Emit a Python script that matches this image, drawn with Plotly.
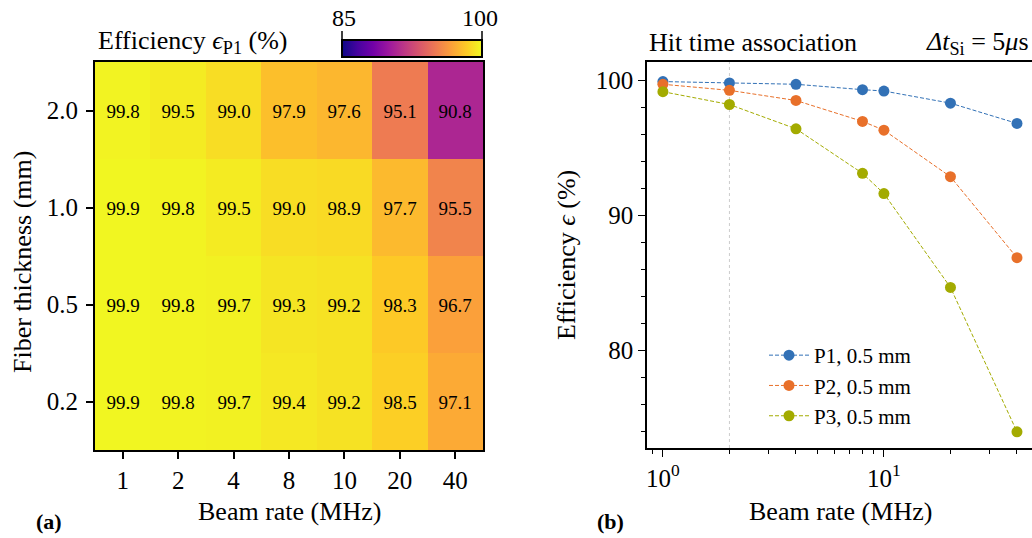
import plotly.graph_objects as go

# ---------------- data ----------------
beam_rates_cat = ["1", "2", "4", "8", "10", "20", "40"]
thickness_cat = ["0.2", "0.5", "1.0", "2.0"]
eff_p1 = [
    [99.9, 99.8, 99.7, 99.4, 99.2, 98.5, 97.1],  # 0.2 mm
    [99.9, 99.8, 99.7, 99.3, 99.2, 98.3, 96.7],  # 0.5 mm
    [99.9, 99.8, 99.5, 99.0, 98.9, 97.7, 95.5],  # 1.0 mm
    [99.8, 99.5, 99.0, 97.9, 97.6, 95.1, 90.8],  # 2.0 mm
]

beam_rates = [1, 2, 4, 8, 10, 20, 40]
p1_eff = [99.9, 99.8, 99.7, 99.3, 99.2, 98.3, 96.8]
p2_eff = [99.7, 99.25, 98.5, 96.95, 96.3, 92.85, 86.85]
p3_eff = [99.15, 98.2, 96.4, 93.1, 91.6, 84.65, 73.95]

W, H = 1032, 538
FONT = "Liberation Serif"

def px(x):
    return x / W

def py(y):
    return 1 - y / H

fig = go.Figure()

# ---------------- (a) heatmap ----------------
fig.add_trace(go.Heatmap(
    z=eff_p1, x=beam_rates_cat, y=thickness_cat,
    colorscale="Plasma", zmin=85, zmax=100,
    texttemplate="%{z:.1f}", textfont=dict(family=FONT, size=19, color="black"),
    xaxis="x", yaxis="y", hoverinfo="skip",
    colorbar=dict(orientation="h", x=px(412), xanchor="center",
                  y=py(40), yanchor="top", len=140 / W, lenmode="fraction",
                  thickness=17, xpad=0, ypad=0,
                  outlinewidth=2, outlinecolor="black",
                  ticks="", showticklabels=False),
))

# ---------------- (b) lines ----------------
series = [
    ("P1, 0.5 mm", p1_eff, "#3271b6"),
    ("P2, 0.5 mm", p2_eff, "#e8702a"),
    ("P3, 0.5 mm", p3_eff, "#a3ab00"),
]
ymin2, ymax2 = 72.75, 101.35
fig.add_trace(go.Scatter(x=[2, 2], y=[ymin2, ymax2], mode="lines",
                         line=dict(color="#cccccc", width=1, dash="dot"),
                         xaxis="x2", yaxis="y2", showlegend=False, hoverinfo="skip"))
for name, vals, col in series:
    fig.add_trace(go.Scatter(
        x=beam_rates, y=vals, name=name, mode="lines+markers",
        line=dict(color=col, width=1, dash="4px,2px"),
        marker=dict(color=col, size=11),
        xaxis="x2", yaxis="y2",
    ))

TICKF = dict(size=25)
fig.update_layout(
    width=W, height=H,
    margin=dict(l=0, r=0, t=0, b=0),
    paper_bgcolor="white", plot_bgcolor="white",
    font=dict(family=FONT, size=25, color="black"),
    xaxis=dict(domain=[px(95), px(483)], type="category",
               ticks="outside", ticklen=7, tickwidth=1.5, tickcolor="black",
               showline=True, linewidth=2, linecolor="black", mirror=True,
               tickfont=TICKF, showgrid=False),
    yaxis=dict(domain=[py(450), py(62)], type="category",
               ticks="outside", ticklen=7, tickwidth=1.5, tickcolor="black",
               showline=True, linewidth=2, linecolor="black", mirror=True,
               tickfont=TICKF, showgrid=False, ticklabelstandoff=3),
    xaxis2=dict(domain=[px(647), 1.0], type="log", range=[-0.072, 1.670],
                anchor="y2",
                tickvals=[1, 10], ticktext=["10<sup>0</sup>", "10<sup>1</sup>"],
                ticks="outside", ticklen=7, tickwidth=1.3, tickcolor="black",
                minor=dict(tickvals=[0.9, 2, 3, 4, 5, 6, 7, 8, 9, 20, 30, 40, 50],
                           ticks="outside", ticklen=4, tickwidth=1, tickcolor="black",
                           showgrid=False),
                showline=True, linewidth=1.5, linecolor="black", mirror=True,
                showgrid=False, zeroline=False, tickfont=TICKF),
    yaxis2=dict(domain=[py(448), py(62)], range=[ymin2, ymax2], anchor="x2",
                tickvals=[80, 90, 100],
                ticks="outside", ticklen=7, tickwidth=1.3, tickcolor="black",
                minor=dict(dtick=2, ticks="outside", ticklen=4, tickwidth=1,
                           tickcolor="black", showgrid=False),
                showline=True, linewidth=1.5, linecolor="black", mirror=False,
                showgrid=False, zeroline=False, tickfont=TICKF),
    legend=dict(x=px(764), y=py(335), xanchor="left", yanchor="top",
                bgcolor="rgba(255,255,255,0)", font=dict(size=21),
                tracegroupgap=0, itemwidth=40),
    showlegend=True,
)

annotations = [
    dict(text="Efficiency <i>ϵ</i><sub>P1</sub> (%)", x=px(96), y=py(42),
         xanchor="left", yanchor="middle", font=dict(size=26)),
    dict(text="85", x=px(344), y=py(18), xanchor="center", yanchor="middle",
         font=dict(size=24)),
    dict(text="100", x=px(480), y=py(18), xanchor="center", yanchor="middle",
         font=dict(size=24)),
    dict(text="Hit time association", x=px(647), y=py(43),
         xanchor="left", yanchor="middle", font=dict(size=26)),
    dict(text="<i>Δt</i><sub>Si</sub> = 5<i>μ</i>s", x=px(1031), y=py(43),
         xanchor="right", yanchor="middle", font=dict(size=26)),
    dict(text="Fiber thickness (mm)", x=px(22), y=py(262), textangle=-90,
         xanchor="center", yanchor="middle", font=dict(size=26)),
    dict(text="Beam rate (MHz)", x=px(289), y=py(511),
         xanchor="center", yanchor="middle", font=dict(size=26)),
    dict(text="Efficiency <i>ϵ</i> (%)", x=px(566), y=py(255), textangle=-90,
         xanchor="center", yanchor="middle", font=dict(size=26)),
    dict(text="Beam rate (MHz)", x=px(840), y=py(511),
         xanchor="center", yanchor="middle", font=dict(size=26)),
    dict(text="<b>(a)</b>", x=px(49), y=py(521), xanchor="center", yanchor="middle",
         font=dict(size=22)),
    dict(text="<b>(b)</b>", x=px(610), y=py(521), xanchor="center", yanchor="middle",
         font=dict(size=22)),
]
for a in annotations:
    a.update(xref="paper", yref="paper", showarrow=False)
fig.update_layout(annotations=annotations)

# colorbar end ticks (upward)
for xc in (342, 482):
    fig.add_shape(type="line", xref="paper", yref="paper",
                  x0=px(xc), x1=px(xc), y0=py(40), y1=py(31),
                  line=dict(color="black", width=1.5))

fig.write_html("out.html", config={"displayModeBar": False},
               post_script="document.body.style.margin='0px';")
